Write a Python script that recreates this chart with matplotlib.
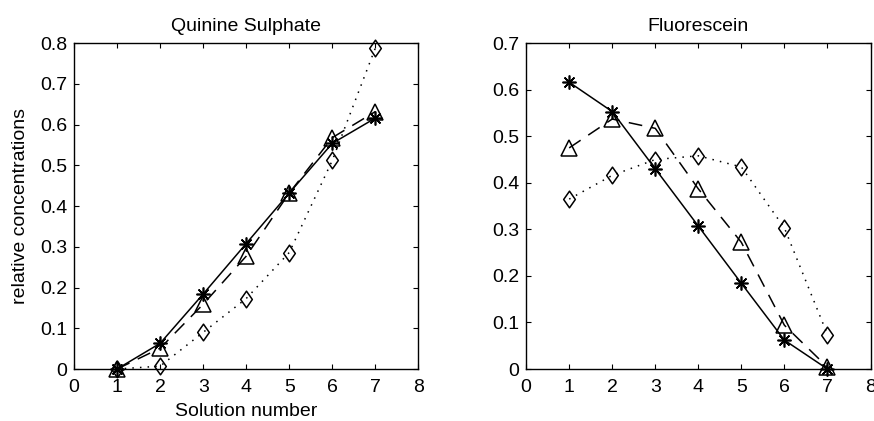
import matplotlib
matplotlib.use("Agg")
import matplotlib.pyplot as plt
from matplotlib.path import Path

plt.rcParams['font.family'] = ['Liberation Sans', 'DejaVu Sans']

solution = [1, 2, 3, 4, 5, 6, 7]

# Quinine Sulphate
qs_star = [0.0, 0.063, 0.184, 0.308, 0.432, 0.554, 0.616]
qs_tri = [0.0, 0.051, 0.159, 0.277, 0.432, 0.568, 0.632]
qs_dia = [0.0, 0.007, 0.090, 0.173, 0.286, 0.512, 0.788]

# Fluorescein
fl_star = [0.616, 0.553, 0.430, 0.307, 0.184, 0.062, 0.0]
fl_tri = [0.475, 0.537, 0.517, 0.387, 0.272, 0.094, 0.004]
fl_dia = [0.365, 0.416, 0.450, 0.458, 0.434, 0.303, 0.074]

FS = 14

# matlab-like diamond (a bit wider than matplotlib's thin diamond)
diamond = Path([(0, 1), (0.7, 0), (0, -1), (-0.7, 0), (0, 1)],
               [Path.MOVETO, Path.LINETO, Path.LINETO, Path.LINETO, Path.CLOSEPOLY])

fig = plt.figure(figsize=(8.74, 4.21), dpi=100)
ax1 = fig.add_axes([0.0847, 0.1235, 0.394, 0.774])
ax2 = fig.add_axes([0.602, 0.1235, 0.394, 0.774])


def draw(ax, star, tri, dia, ymax, title):
    ax.plot(solution, star, color='black', lw=1.1, ls='-',
            marker=(8, 2, 0), ms=10, mew=1.2, clip_on=False)
    ax.plot(solution, tri, color='black', lw=1.1, ls=(0, (9, 6)),
            marker='^', ms=11, mfc='none', mew=1.1, clip_on=False)
    ax.plot(solution, dia, color='black', lw=1.1, ls=(0, (1, 4)),
            marker=diamond, ms=12, mfc='none', mew=1.1, clip_on=False)
    ax.set_xlim(0, 8)
    ax.set_ylim(0, ymax)
    ax.set_xticks(range(0, 9))
    n = int(round(ymax * 10))
    ax.set_yticks([i / 10 for i in range(n + 1)])
    ax.set_yticklabels(["0"] + [f"{i / 10:.1f}" for i in range(1, n + 1)])
    ax.tick_params(direction='in', length=3.5, width=0.8, top=True, right=True,
                   labelsize=FS)
    ax.tick_params(axis='x', pad=7)
    ax.tick_params(axis='y', pad=5)
    for s in ax.spines.values():
        s.set_linewidth(1.0)
    ax.set_title(title, fontsize=FS, pad=9)


draw(ax1, qs_star, qs_tri, qs_dia, 0.8, "Quinine Sulphate")
draw(ax2, fl_star, fl_tri, fl_dia, 0.7, "Fluorescein")

ax1.set_xlabel("Solution number", fontsize=FS, labelpad=5)
ax1.set_ylabel("relative concentrations", fontsize=FS, labelpad=8)

fig.savefig("out.png", dpi=100)
